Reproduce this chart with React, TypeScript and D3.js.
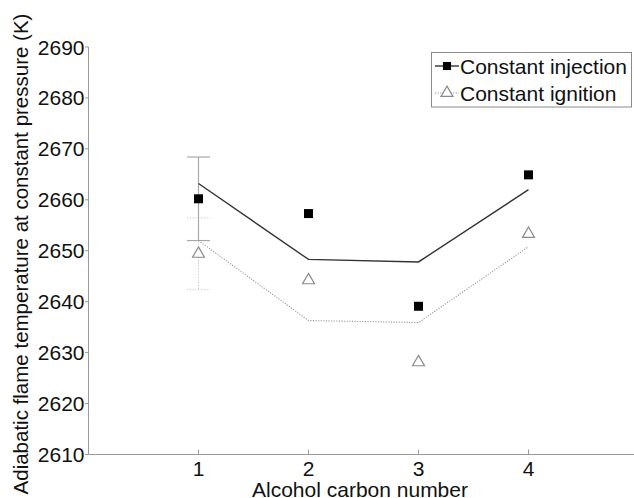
import React from "react";
import * as d3 from "d3";

const carbonNumbers = [1, 2, 3, 4];
const injectionPoints = [2660.2, 2657.3, 2639.1, 2664.9];
const injectionFit = [2663.2, 2648.3, 2647.8, 2662.0];
const ignitionPoints = [2649.4, 2644.2, 2628.1, 2653.3];
const ignitionFit = [2652.0, 2636.3, 2635.9, 2650.8];
const injectionErr = [8.2];
const ignitionErr = [7.05];
const yTicks = [2610, 2620, 2630, 2640, 2650, 2660, 2670, 2680, 2690];
const xTicks = [1, 2, 3, 4];

const W = 634;
const H = 498;
const FONT = "'Liberation Sans', Arial, sans-serif";

export default function App() {
  const x = d3.scaleLinear().domain([0, 5]).range([88.5, 638.5]);
  const y = d3.scaleLinear().domain([2610, 2690]).range([454.5, 47]);
  const line = d3
    .line<number>()
    .x((_, i) => x(carbonNumbers[i]))
    .y((d) => y(d));
  const sq = d3.symbol().type(d3.symbolSquare).size(81)();
  const tri = d3.symbol().type(d3.symbolTriangle).size(62)();
  const axisColor = "#9a9a9a";

  const ex = x(carbonNumbers[0]);
  const capW = 11.5;

  return (
    <svg
      width={W}
      height={H}
      style={{ position: "absolute", left: 0, top: 0, background: "#fff" }}
      fontFamily={FONT}
    >
      {/* axes */}
      <line x1={x(0)} x2={W} y1={y(2610)} y2={y(2610)} stroke={axisColor} strokeWidth={1} />
      <line x1={x(0)} x2={x(0)} y1={y(2610)} y2={y(2690)} stroke={axisColor} strokeWidth={1} />
      {yTicks.map((t) => (
        <g key={t}>
          <line x1={x(0) - 3.5} x2={x(0)} y1={y(t)} y2={y(t)} stroke={axisColor} />
          <text x={x(0) - 4} y={y(t)} dy="0.36em" textAnchor="end" fontSize={21} fill="#111">
            {t}
          </text>
        </g>
      ))}
      {xTicks.map((t) => (
        <g key={t}>
          <line x1={x(t)} x2={x(t)} y1={y(2610)} y2={y(2610) - 5} stroke={axisColor} />
          <text x={x(t)} y={476} textAnchor="middle" fontSize={21} fill="#111">
            {t}
          </text>
        </g>
      ))}
      <text x={360} y={497} textAnchor="middle" fontSize={21} fill="#111">
        Alcohol carbon number
      </text>
      <text
        transform={`translate(28,254) rotate(-90)`}
        textAnchor="middle"
        fontSize={20.5}
        fill="#111"
      >
        Adiabatic flame temperature at constant pressure (K)
      </text>

      {/* error bars at x=1 */}
      <g stroke="#c8c8c8" strokeWidth={1} strokeDasharray="1.2,1.6">
        <line x1={ex} x2={ex} y1={y(ignitionPoints[0] + ignitionErr[0])} y2={y(ignitionPoints[0] - ignitionErr[0])} />
        <line x1={ex - capW} x2={ex + capW} y1={y(ignitionPoints[0] + ignitionErr[0])} y2={y(ignitionPoints[0] + ignitionErr[0])} />
        <line x1={ex - capW} x2={ex + capW} y1={y(ignitionPoints[0] - ignitionErr[0])} y2={y(ignitionPoints[0] - ignitionErr[0])} />
      </g>
      <g stroke="#a8a8a8" strokeWidth={1.2}>
        <line x1={ex} x2={ex} y1={y(injectionPoints[0] + injectionErr[0])} y2={y(injectionPoints[0] - injectionErr[0])} />
        <line x1={ex - capW} x2={ex + capW} y1={y(injectionPoints[0] + injectionErr[0])} y2={y(injectionPoints[0] + injectionErr[0])} />
        <line x1={ex - capW} x2={ex + capW} y1={y(injectionPoints[0] - injectionErr[0])} y2={y(injectionPoints[0] - injectionErr[0])} />
      </g>

      {/* fit lines */}
      <path d={line(injectionFit) || ""} fill="none" stroke="#333" strokeWidth={1.4} />
      <path d={line(ignitionFit) || ""} fill="none" stroke="#999" strokeWidth={1.1} strokeDasharray="1.2,1.4" />

      {/* markers */}
      {injectionPoints.map((v, i) => (
        <path key={"s" + i} d={sq || ""} transform={`translate(${x(carbonNumbers[i])},${y(v)})`} fill="#000" />
      ))}
      {ignitionPoints.map((v, i) => (
        <path
          key={"t" + i}
          d={tri || ""}
          transform={`translate(${x(carbonNumbers[i])},${y(v)})`}
          fill="#fff"
          stroke="#8a8a8a"
          strokeWidth={1.2}
        />
      ))}

      {/* legend */}
      <rect x={431.5} y={52.5} width={200} height={54.5} fill="#fff" stroke="#8a8a8a" strokeWidth={1} />
      <line x1={435} x2={459} y1={66} y2={66} stroke="#333" strokeWidth={1.4} />
      <path d={sq || ""} transform="translate(447,66) scale(0.9)" fill="#000" />
      <text x={460} y={66} dy="0.36em" fontSize={21} fill="#111">
        Constant injection
      </text>
      <line x1={435} x2={459} y1={93} y2={93} stroke="#999" strokeWidth={1.1} strokeDasharray="1.2,1.4" />
      <path d={tri || ""} transform="translate(447,93)" fill="#fff" stroke="#8a8a8a" strokeWidth={1.2} />
      <text x={460} y={93} dy="0.36em" fontSize={21} fill="#111">
        Constant ignition
      </text>
    </svg>
  );
}
